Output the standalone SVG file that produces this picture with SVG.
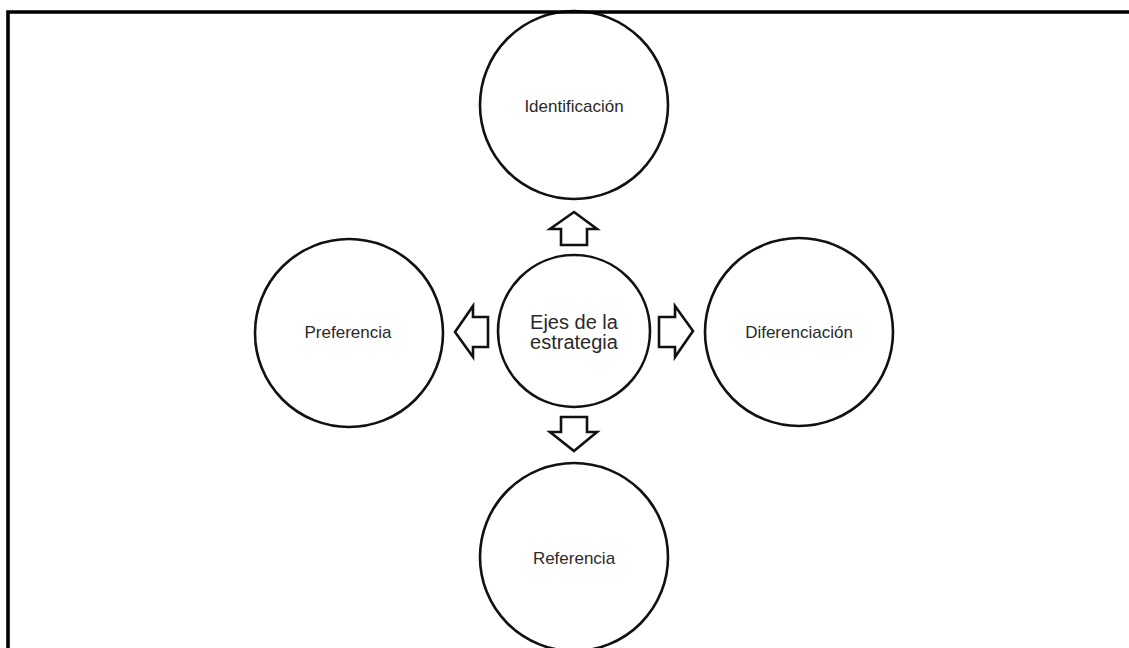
<svg xmlns="http://www.w3.org/2000/svg" width="1129" height="648" viewBox="0 0 1129 648">
  <style>
    .node { fill: #ffffff; stroke: #111111; stroke-width: 2.6; }
    .label { font-family: "Liberation Sans", Arial, sans-serif; font-size: 17px; fill: #2a2a2a; text-anchor: middle; }
    .hub { font-size: 20px; }
    .arrow { fill: #ffffff; stroke: #111111; stroke-width: 2.6; stroke-linejoin: miter; }
  </style>
  <rect width="1129" height="648" fill="#ffffff"/>

  <g id="identificacion">
    <circle class="node" cx="574" cy="105" r="94"/>
    <text class="label" x="574" y="112">Identificación</text>
  </g>

  <g id="preferencia">
    <circle class="node" cx="349" cy="333" r="94"/>
    <text class="label" x="348" y="338">Preferencia</text>
  </g>

  <g id="diferenciacion">
    <circle class="node" cx="799" cy="332" r="94"/>
    <text class="label" x="799" y="338">Diferenciación</text>
  </g>

  <g id="referencia">
    <circle class="node" cx="574" cy="557" r="94"/>
    <text class="label" x="574" y="564">Referencia</text>
  </g>

  <g id="ejes">
    <circle class="node" cx="574" cy="331" r="76"/>
    <text class="label hub" x="574" y="329">Ejes de la</text>
    <text class="label hub" x="574" y="349">estrategia</text>
  </g>

  <g id="connectors">
    <!-- up -->
    <polygon class="arrow" points="574,212 597,229 587,229 587,245 561,245 561,229 550,229"/>
    <!-- left -->
    <polygon class="arrow" points="455,332 473,306 473,317 488,317 488,347 473,347 473,357"/>
    <!-- right -->
    <polygon class="arrow" points="693,331 675,306 675,317 659,317 659,347 675,347 675,357"/>
    <!-- down -->
    <polygon class="arrow" points="574,451 597,432 587,432 587,417 561,417 561,432 550,432"/>
  </g>

  <!-- frame: top and left edges -->
  <path d="M8 648 V12 H1129" fill="none" stroke="#000000" stroke-width="3.6"/>
</svg>
